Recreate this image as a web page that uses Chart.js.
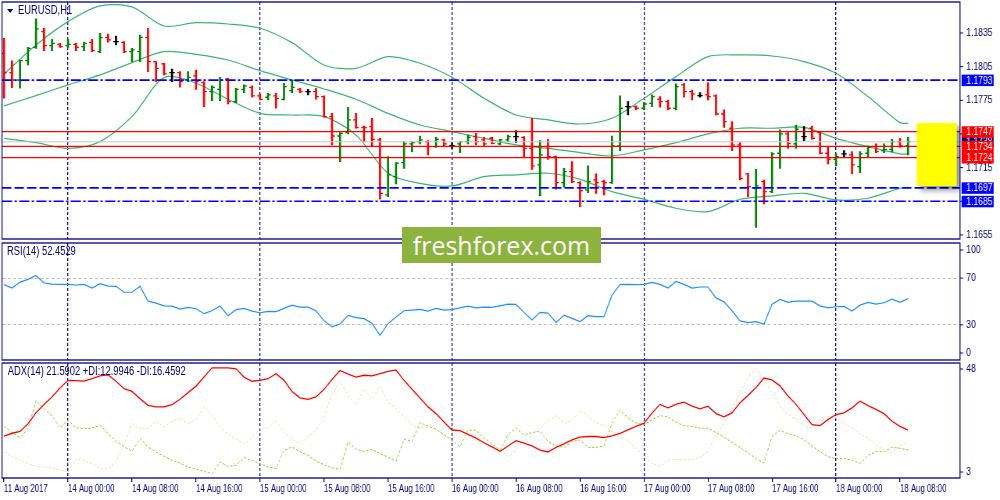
<!DOCTYPE html>
<html lang="en">
<head>
<meta charset="UTF-8">
<title>EURUSD H1</title>
<script src="https://cdn.jsdelivr.net/npm/chart.js@4.4.0/dist/chart.umd.min.js"></script>
<style>
  body { margin: 0; background: #fff; }
  #stage { position: relative; width: 1000px; height: 500px; overflow: hidden; background: #fff; }
  /* the terminal shot is squeezed horizontally, so draw wide and scale down */
  #wide { position: absolute; left: 0; top: 0; width: 1280px; height: 500px; transform: scaleX(0.78125); transform-origin: 0 0; }
  #wide canvas { position: absolute; left: 0; }
  .cap { position: absolute; font: 12px "Liberation Sans", Arial, sans-serif; color: #000080; white-space: nowrap; line-height: 14px; }
  #tri { position: absolute; left: 9px; top: 9px; width: 0; height: 0; border-left: 4px solid transparent; border-right: 4px solid transparent; border-top: 4px solid #000080; }
  #logo { position: absolute; left: 402px; top: 227px; width: 199px; height: 36px; background: #8db33f; color: #fff; font: 25px "Open Sans", sans-serif; text-align: center; line-height: 36px; }
</style>
</head>
<body>
<div id="stage">
  <div id="wide">
    <canvas id="mainChart" width="1280" height="241" style="top:0"></canvas>
    <canvas id="rsiChart" width="1280" height="120" style="top:241px"></canvas>
    <canvas id="adxChart" width="1280" height="139" style="top:361px"></canvas>
    <div id="tri"></div>
    <div class="cap" style="left:23px;top:3px">EURUSD,H1</div>
    <div class="cap" style="left:9px;top:244px">RSI(14) 52.4529</div>
    <div class="cap" style="left:10px;top:364px">ADX(14) 21.5902 +DI:12.9946 -DI:16.4592</div>
  </div>
  <div id="logo">freshforex.com</div>
</div>
<script>
    // H1 bars, 11 Aug 16:00 .. 18 Aug 09:00 (bar index 0..113)
    var opens = [
        1.18169,1.17997,1.17931,1.18103,1.18222,1.18362,1.18237,1.18249,1.18237,1.18249,
        1.18228,1.18267,1.18184,1.18308,1.18273,1.18267,1.18184,1.18184,1.18308,1.18095,
        1.18074,1.17997,1.17997,1.17931,1.17967,1.17907,1.17827,1.17848,1.17940,1.17738,
        1.17848,1.17866,1.17789,1.17777,1.17789,1.17759,1.17836,1.17848,1.17827,1.17827,
        1.17783,1.17605,1.17432,1.17462,1.17575,1.17509,1.17515,1.17397,1.16907,1.17070,
        1.17195,1.17361,1.17382,1.17382,1.17337,1.17397,1.17346,1.17361,1.17382,1.17426,
        1.17397,1.17412,1.17361,1.17397,1.17426,1.17420,1.17322,1.17174,1.17337,1.17248,
        1.17016,1.17114,1.17016,1.16951,1.17040,1.17025,1.17016,1.17343,1.17694,1.17694,
        1.17679,1.17723,1.17759,1.17738,1.17679,1.17887,1.17827,1.17792,1.17798,1.17789,
        1.17628,1.17501,1.17352,1.17094,1.16966,1.17025,1.16936,1.17278,1.17450,1.17361,
        1.17426,1.17501,1.17462,1.17278,1.17224,1.17272,1.17263,1.17159,1.17278,1.17337,
        1.17302,1.17313,1.17382,1.17343];
    var highs = [
        1.18302,1.18101,1.18109,1.18222,1.18475,1.18392,1.18294,1.18258,1.18294,1.18258,
        1.18267,1.18294,1.18347,1.18341,1.18323,1.18273,1.18213,1.18332,1.18392,1.18095,
        1.18080,1.18029,1.18005,1.18005,1.18020,1.17916,1.17878,1.17955,1.17946,1.17857,
        1.17887,1.17878,1.17806,1.17812,1.17812,1.17902,1.17931,1.17857,1.17848,1.17857,
        1.17789,1.17634,1.17462,1.17688,1.17634,1.17521,1.17590,1.17412,1.17248,1.17195,
        1.17382,1.17382,1.17432,1.17391,1.17420,1.17403,1.17373,1.17382,1.17441,1.17456,
        1.17420,1.17420,1.17403,1.17441,1.17480,1.17426,1.17590,1.17391,1.17403,1.17254,
        1.17144,1.17204,1.17025,1.17165,1.17094,1.17040,1.17432,1.17789,1.17738,1.17700,
        1.17729,1.17798,1.17783,1.17753,1.17896,1.17902,1.17842,1.17818,1.17907,1.17798,
        1.17664,1.17560,1.17373,1.17100,1.17135,1.17040,1.17284,1.17486,1.17462,1.17530,
        1.17515,1.17521,1.17471,1.17337,1.17272,1.17302,1.17293,1.17293,1.17343,1.17361,
        1.17361,1.17403,1.17412,1.17420];
    var lows = [
        1.17768,1.17863,1.17857,1.18065,1.18213,1.18193,1.18193,1.18222,1.18222,1.18193,
        1.18193,1.18184,1.18175,1.18267,1.18243,1.18175,1.18095,1.18095,1.18005,1.17916,
        1.17976,1.17916,1.17866,1.17916,1.17848,1.17694,1.17747,1.17747,1.17717,1.17729,
        1.17818,1.17777,1.17753,1.17753,1.17679,1.17753,1.17818,1.17818,1.17798,1.17759,
        1.17599,1.17352,1.17204,1.17450,1.17501,1.17382,1.17343,1.16868,1.16892,1.17005,
        1.17144,1.17293,1.17361,1.17263,1.17331,1.17337,1.17322,1.17284,1.17361,1.17352,
        1.17337,1.17361,1.17352,1.17382,1.17373,1.17248,1.17135,1.16898,1.17224,1.16957,
        1.16975,1.17016,1.16803,1.16927,1.16921,1.16907,1.17010,1.17302,1.17619,1.17664,
        1.17664,1.17694,1.17688,1.17664,1.17664,1.17777,1.17753,1.17777,1.17753,1.17619,
        1.17509,1.17302,1.17040,1.16892,1.16618,1.16826,1.16927,1.17144,1.17322,1.17322,
        1.17391,1.17403,1.17272,1.17183,1.17165,1.17242,1.17094,1.17106,1.17242,1.17284,
        1.17284,1.17293,1.17331,1.17263];
    var closes = [
        1.17997,1.17931,1.18103,1.18213,1.18386,1.18237,1.18258,1.18228,1.18249,1.18222,
        1.18258,1.18193,1.18308,1.18288,1.18273,1.18184,1.18199,1.18311,1.18095,1.18035,
        1.17985,1.17997,1.17916,1.17955,1.17916,1.17827,1.17866,1.17931,1.17738,1.17848,
        1.17878,1.17789,1.17759,1.17798,1.17768,1.17872,1.17866,1.17827,1.17827,1.17783,
        1.17605,1.17432,1.17456,1.17575,1.17507,1.17507,1.17403,1.16921,1.17085,1.17189,
        1.17361,1.17373,1.17397,1.17337,1.17403,1.17361,1.17346,1.17382,1.17420,1.17382,
        1.17361,1.17367,1.17397,1.17426,1.17426,1.17322,1.17165,1.17263,1.17248,1.17016,
        1.17114,1.17025,1.16945,1.17025,1.17016,1.17016,1.17343,1.17679,1.17694,1.17679,
        1.17717,1.17783,1.17738,1.17679,1.17872,1.17827,1.17806,1.17792,1.17783,1.17628,
        1.17560,1.17352,1.17055,1.16981,1.16987,1.16936,1.17272,1.17450,1.17367,1.17492,
        1.17426,1.17412,1.17278,1.17224,1.17248,1.17272,1.17174,1.17272,1.17331,1.17293,
        1.17313,1.17382,1.17343,1.17382];

    // Bollinger bands, read every 4th bar
    var bbBars = [0,4,8,12,16,20,24,28,32,36,40,44,48,52,56,60,64,68,72,76,80,84,88,92,96,100,104,108,112,113];
    var bbUpper = [1.17985,1.18243,1.18451,1.18591,1.18582,1.18412,1.18442,1.18430,1.18392,1.18264,
        1.18065,1.18035,1.18139,1.18080,1.17955,1.17768,1.17619,1.17575,1.17539,1.17590,
        1.17768,1.17961,1.18139,1.18154,1.18145,1.18095,1.17991,1.17783,1.17551,1.17545];
    var bbMiddle = [1.17700,1.17792,1.17887,1.17976,1.18086,1.18184,1.18160,1.18109,1.18014,1.17931,
        1.17851,1.17759,1.17634,1.17530,1.17471,1.17411,1.17352,1.17322,1.17284,1.17254,
        1.17308,1.17373,1.17450,1.17501,1.17501,1.17509,1.17411,1.17337,1.17272,1.17272];
    var bbLower = [1.17411,1.17373,1.17322,1.17382,1.17605,1.17952,1.17902,1.17759,1.17634,1.17619,
        1.17605,1.17441,1.17100,1.17010,1.16987,1.17070,1.17085,1.17100,1.17046,1.16936,
        1.16868,1.16788,1.16758,1.16868,1.16898,1.16921,1.16862,1.16877,1.16966,1.16975];

    var rsi = [
        64.4,61.5,66.6,68.9,72.3,65.8,64.9,64.6,64.6,64.1,
        64.6,61.5,65.2,63.2,63.0,57.9,57.9,63.0,50.3,48.6,
        46.3,46.1,43.5,44.9,43.8,39.6,42.1,46.1,37.9,43.0,
        44.1,41.8,40.4,41.5,41.3,44.1,46.9,45.2,45.2,42.1,
        33.7,28.3,30.8,38.2,36.2,35.4,31.4,21.0,31.1,36.8,
        42.1,42.7,43.2,41.8,44.1,42.7,43.0,44.6,46.1,44.6,
        45.2,44.9,46.3,47.7,47.5,40.7,34.2,40.7,40.1,32.0,
        38.4,35.6,32.8,37.9,37.0,37.0,55.4,64.4,64.6,64.4,
        64.6,66.3,64.6,61.5,67.2,64.6,61.5,62.4,62.4,53.1,
        49.7,42.1,33.4,32.0,32.8,30.8,47.7,51.7,49.2,50.3,
        50.3,50.3,46.3,44.6,45.5,45.8,41.8,46.9,49.2,47.7,
        48.9,52.0,49.2,52.45];

    var adx = [
        19.0,20.2,21.0,24.3,29.1,32.6,35.9,39.8,43.1,43.0,
        42.8,43.8,45.0,45.5,42.7,39.5,38.3,35.2,32.3,31.6,
        31.6,32.6,34.9,37.8,40.6,44.5,48.5,48.5,48.5,48.1,
        44.5,42.7,43.1,43.8,46.0,43.1,38.3,35.5,34.9,35.9,
        39.2,43.5,47.4,45.8,44.5,45.3,45.0,46.0,47.0,47.6,
        43.1,39.2,35.5,31.6,28.7,25.1,21.6,21.3,19.7,18.1,
        16.1,14.3,12.4,14.7,17.0,15.9,14.7,12.9,12.1,14.1,
        15.6,17.3,18.5,18.8,18.8,18.3,19.1,20.2,21.7,23.2,
        24.6,29.0,32.7,31.2,32.7,33.7,31.9,30.8,31.9,28.7,
        27.3,29.0,33.4,36.6,40.0,44.1,43.3,40.7,36.3,32.7,
        28.3,23.9,23.5,26.1,28.3,29.0,31.2,34.1,32.2,30.5,
        28.7,25.4,23.2,21.59];
    var plusDI = [
        23.3,20.5,18.2,22.2,34.4,30.8,27.7,22.5,25.8,22.5,
        22.2,22.5,23.6,20.0,16.9,14.3,12.4,17.9,14.3,12.1,
        10.2,8.5,7.3,5.6,4.6,3.7,2.7,7.8,5.9,6.3,
        9.6,8.5,7.0,5.6,4.9,12.8,14.3,12.1,10.7,8.1,
        6.6,5.2,4.6,16.4,13.2,12.4,13.2,11.4,9.9,8.1,
        17.6,16.7,24.8,23.3,21.9,19.6,17.1,14.3,21.5,21.5,
        18.2,15.7,12.8,19.5,22.4,19.5,20.5,21.0,16.6,14.7,
        14.1,16.6,17.3,14.1,14.1,14.7,24.6,30.2,26.8,24.6,
        23.9,26.1,27.8,27.3,24.9,23.5,23.2,22.4,22.4,20.5,
        18.5,16.2,14.1,11.8,9.3,7.4,18.8,21.4,20.0,19.1,
        17.3,14.7,12.2,10.0,9.3,9.3,8.6,7.1,10.7,12.2,
        12.2,14.1,13.7,12.99];
    var minusDI = [
        12.1,10.2,8.5,7.0,6.0,5.6,5.2,4.2,3.4,9.2,
        8.3,7.0,5.2,4.6,8.1,15.0,24.4,22.2,22.2,25.4,
        22.9,25.4,26.8,24.4,26.2,31.6,28.2,22.9,19.6,17.6,
        15.7,18.2,22.2,22.5,25.8,20.7,17.6,15.7,18.6,21.5,
        26.8,37.3,42.7,36.6,32.3,39.5,34.9,40.6,33.7,30.8,
        27.2,23.9,22.2,24.2,22.2,19.0,17.9,20.5,19.3,17.1,
        15.7,14.7,13.5,10.0,13.2,16.6,19.5,22.4,25.4,27.8,
        24.6,25.4,30.2,27.5,24.6,23.5,21.0,19.5,16.6,13.7,
        10.3,7.1,5.9,8.6,8.9,8.6,8.9,9.7,12.2,19.5,
        24.6,30.5,37.8,44.3,48.3,43.6,37.8,31.9,28.3,26.1,
        23.2,22.4,26.1,27.5,26.8,24.6,22.4,19.9,18.0,15.1,
        12.9,11.8,14.7,16.46];

    // horizontal levels drawn on the chart
    var levelPrices = [1.1793, 1.1747, 1.1734, 1.1724, 1.1697, 1.1685];
    var levelColors = ['#0000ff', '#ff0000', '#ff0000', '#ff0000', '#0000ff', '#0000ff'];
    var bidPrice = 1.1738;
    // marked zone (bar index range, price range)
    var zoneBars = [114.1, 119.1];
    var zonePrices = [1.16986, 1.17548];

    var priceTicks = [1.1835, 1.1805, 1.1775, 1.1745, 1.1715, 1.1685, 1.1655];
    var rsiTicks = [100, 70, 30, 0];
    var adxTicks = [48, 3];
    var labelBars = [0, 8, 16, 24, 32, 40, 48, 56, 64, 72, 80, 88, 96, 104, 112];
    var timeLabels = ['11 Aug 2017', '14 Aug 00:00', '14 Aug 08:00', '14 Aug 16:00', '15 Aug 00:00',
        '15 Aug 08:00', '15 Aug 16:00', '16 Aug 00:00', '16 Aug 08:00', '16 Aug 16:00',
        '17 Aug 00:00', '17 Aug 08:00', '17 Aug 16:00', '18 Aug 00:00', '18 Aug 08:00'];

    var NAVY = '#000080';
    var X_MIN = -0.25, X_MAX = 119.5;
    var AXIS_W = 51.2;
    Chart.defaults.font.family = '"Liberation Sans", Arial, sans-serif';

    var levelDash = [[13, 3, 3, 3], [], [], [], [12, 4], [13, 3, 3, 3]];
    var levelWidth = [1.6, 1.3, 1.3, 1.3, 1.6, 1.6];

    function xAxis(showLabels) {
        return {
            type: 'linear', min: X_MIN, max: X_MAX, offset: false,
            afterBuildTicks: function(s) { s.ticks = labelBars.map(function(v) { return {value: v}; }); },
            afterFit: function(s) { s.height = showLabels ? 22 : 0; },
            grid: {
                offset: false,
                color: function(c) { return (c.tick && (c.tick.value - 8) % 24 === 0) ? NAVY : 'rgba(0,0,0,0)'; },
                lineWidth: 1.3,
                drawTicks: showLabels, tickLength: 4, tickColor: NAVY, tickWidth: 1.3
            },
            border: {display: false, dash: [3, 2]},
            ticks: {
                display: showLabels, align: 'start', padding: 1, color: NAVY,
                font: {size: 10}, maxRotation: 0, minRotation: 0, autoSkip: false,
                callback: function(v) { return timeLabels[labelBars.indexOf(v)]; }
            }
        };
    }

    // y axis without labels of its own, fixed width; labels drawn by sideLabels
    function yAxis(min, max, extra) {
        var ax = {
            type: 'linear', position: 'right', min: min, max: max,
            afterFit: function(s) { s.width = AXIS_W; },
            grid: {display: false},
            border: {display: false},
            ticks: {display: false}
        };
        return Object.assign(ax, extra || {});
    }

    var frame = {
        id: 'frame',
        afterDraw: function(chart) {
            var ctx = chart.ctx, a = chart.chartArea;
            ctx.save();
            ctx.strokeStyle = NAVY;
            ctx.lineWidth = 1.3;
            ctx.strokeRect(a.left, a.top, a.right - a.left, a.bottom - a.top);
            ctx.restore();
        }
    };

    function sideLabels(values, digits, margin) {
        return {
            id: 'sideLabels',
            afterDraw: function(chart) {
                var ctx = chart.ctx, a = chart.chartArea, y = chart.scales.y;
                ctx.save();
                ctx.font = '11px "Liberation Sans", Arial, sans-serif';
                ctx.fillStyle = NAVY; ctx.strokeStyle = NAVY; ctx.lineWidth = 1;
                ctx.textBaseline = 'middle';
                values.forEach(function(v) {
                    var py = Math.min(Math.max(y.getPixelForValue(v), a.top + margin), a.bottom - margin);
                    ctx.beginPath(); ctx.moveTo(a.right, py); ctx.lineTo(a.right + 4, py); ctx.stroke();
                    ctx.fillText(v.toFixed(digits), a.right + 8, py);
                });
                ctx.restore();
            }
        };
    }

    var zone = {
        id: 'zone',
        afterDatasetsDraw: function(chart) {
            var ctx = chart.ctx, a = chart.chartArea, x = chart.scales.x, y = chart.scales.y;
            var x1 = x.getPixelForValue(zoneBars[0]), x2 = x.getPixelForValue(zoneBars[1]);
            var y1 = y.getPixelForValue(zonePrices[1]), y2 = y.getPixelForValue(zonePrices[0]);
            ctx.save();
            ctx.beginPath(); ctx.rect(a.left, a.top, a.right - a.left, a.bottom - a.top); ctx.clip();
            ctx.shadowColor = 'rgba(0,0,0,0.45)';
            ctx.shadowBlur = 6; ctx.shadowOffsetX = 4; ctx.shadowOffsetY = 4;
            ctx.fillStyle = '#ffff00';
            ctx.fillRect(x1, y1, x2 - x1, y2 - y1);
            ctx.restore();
        }
    };

    var levelBoxes = {
        id: 'levelBoxes',
        afterDraw: function(chart) {
            var ctx = chart.ctx, a = chart.chartArea, y = chart.scales.y;
            ctx.save();
            ctx.font = '11px "Liberation Sans", Arial, sans-serif';
            ctx.textBaseline = 'middle';
            function box(price, bg) {
                var py = y.getPixelForValue(price);
                ctx.fillStyle = bg;
                ctx.fillRect(a.right + 2, py - 5.5, 41, 11.5);
                ctx.fillStyle = '#ffffff';
                ctx.fillText(price.toFixed(4), a.right + 8, py + 0.5);
            }
            box(bidPrice, NAVY);
            levelPrices.forEach(function(p, k) { box(p, levelColors[k]); });
            ctx.restore();
        }
    };

    // ---------- main price panel ----------
    var barColors = closes.map(function(c, i) {
        return c > opens[i] ? '#008000' : (c < opens[i] ? '#ff0000' : '#000000');
    });
    var tickOff = 0.17;

    var mainSets = [];
    levelPrices.forEach(function(p, k) {
        mainSets.push({
            type: 'line', order: 1,
            data: [{x: X_MIN, y: p}, {x: X_MAX, y: p}],
            borderColor: levelColors[k], borderWidth: levelWidth[k], borderDash: levelDash[k],
            pointRadius: 0
        });
    });
    mainSets.push({
        type: 'line', order: 1.5,
        data: [{x: X_MIN, y: bidPrice}, {x: X_MAX, y: bidPrice}],
        borderColor: '#c8c8c8', borderWidth: 1, pointRadius: 0
    });
    mainSets.push({
        type: 'bar', order: 2,
        data: highs.map(function(h, i) { return {x: i, y: [lows[i], h]}; }),
        backgroundColor: barColors, barThickness: 2, borderWidth: 0
    });
    mainSets.push({
        type: 'scatter', order: 2,
        data: opens.map(function(o, i) { return {x: i - tickOff, y: o}; }),
        pointStyle: 'line', pointRadius: 1.8, pointBorderColor: barColors, pointBorderWidth: 1.3
    });
    mainSets.push({
        type: 'scatter', order: 2,
        data: closes.map(function(c, i) { return {x: i + tickOff, y: c}; }),
        pointStyle: 'line', pointRadius: 1.8, pointBorderColor: barColors, pointBorderWidth: 1.3
    });
    [bbUpper, bbMiddle, bbLower].forEach(function(band) {
        mainSets.push({
            type: 'line', order: 3,
            data: band.map(function(v, k) { return {x: bbBars[k], y: v}; }),
            borderColor: '#3cb371', borderWidth: 1.2, pointRadius: 0, tension: 0.3
        });
    });

    new Chart(document.getElementById('mainChart'), {
        type: 'bar',
        data: {datasets: mainSets},
        options: {
            responsive: false, animation: false,
            layout: {padding: {left: 2.56, top: 2, right: 0, bottom: 2}, autoPadding: false},
            plugins: {legend: {display: false}, tooltip: {enabled: false}},
            scales: {
                x: xAxis(false),
                y: yAxis(1.16514, 1.18626, {beginAtZero: false})
            }
        },
        plugins: [zone, frame, sideLabels(priceTicks, 4, 0), levelBoxes]
    });

    // ---------- RSI panel ----------
    new Chart(document.getElementById('rsiChart'), {
        type: 'line',
        data: {datasets: [{
            data: rsi.map(function(v, i) { return {x: i, y: v}; }),
            borderColor: '#1e90ff', borderWidth: 1.2, pointRadius: 0, tension: 0
        }]},
        options: {
            responsive: false, animation: false,
            layout: {padding: {left: 2.56, top: 2, right: 0, bottom: 1}, autoPadding: false},
            plugins: {legend: {display: false}, tooltip: {enabled: false}},
            scales: {
                x: xAxis(false),
                y: yAxis(0, 100, {
                    afterBuildTicks: function(s) { s.ticks = rsiTicks.map(function(v) { return {value: v}; }); },
                    grid: {
                        color: function(c) { return (c.tick && (c.tick.value === 70 || c.tick.value === 30)) ? '#c0c0c0' : 'rgba(0,0,0,0)'; },
                        drawTicks: false
                    },
                    border: {display: false, dash: [4, 3]}
                })
            }
        },
        plugins: [frame, sideLabels(rsiTicks, 0, 7)]
    });

    // ---------- ADX panel ----------
    function adxLine(values, color, dash, width, order) {
        return {
            data: values.map(function(v, i) { return {x: i, y: v}; }),
            borderColor: color, borderWidth: width, borderDash: dash,
            pointRadius: 0, tension: 0, order: order
        };
    }
    new Chart(document.getElementById('adxChart'), {
        type: 'line',
        data: {datasets: [
            adxLine(adx, '#ff0000', [], 1.3, 1),
            adxLine(plusDI, '#9acd32', [3, 2], 1, 2),
            adxLine(minusDI, '#f5deb3', [3, 2], 1, 3)
        ]},
        options: {
            responsive: false, animation: false,
            layout: {padding: {left: 2.56, top: 2, right: 0, bottom: 0}, autoPadding: false},
            plugins: {legend: {display: false}, tooltip: {enabled: false}},
            scales: {
                x: xAxis(true),
                y: yAxis(0.84, 50.6)
            }
        },
        plugins: [frame, sideLabels(adxTicks, 0, 6)]
    });
</script>
</body>
</html>
